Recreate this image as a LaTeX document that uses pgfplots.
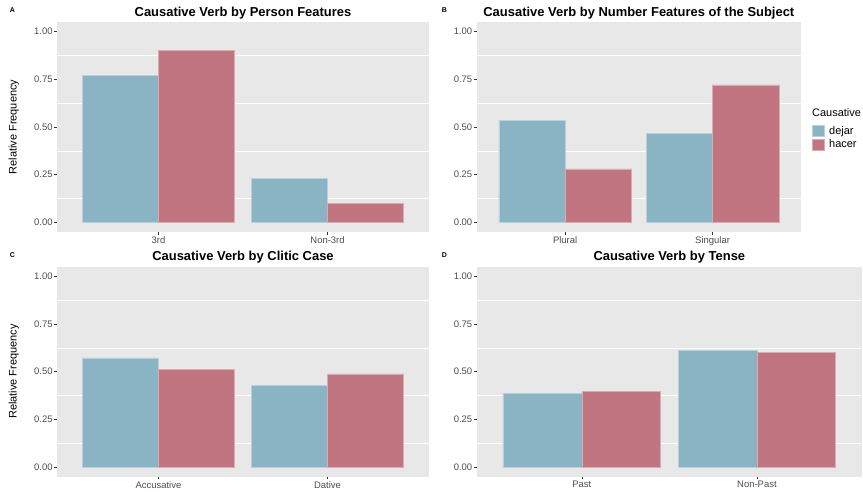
\documentclass[border=0pt]{standalone}
\usepackage{pgfplots}
\pgfplotsset{compat=1.18}
\usepackage{fontspec}
\setmainfont{Liberation Sans}
\definecolor{dejarc}{RGB}{138,179,196}
\definecolor{hacerc}{RGB}{192,117,128}
\definecolor{panelbg}{RGB}{232,232,232}
\definecolor{gthirty}{RGB}{77,77,77}
\definecolor{gtwenty}{RGB}{51,51,51}
\pgfplotsset{
  panel/.style={
    scale only axis, height=210bp,
    xmin=0.4, xmax=2.6, ymin=-0.05, ymax=1.05,
    axis background/.style={fill=panelbg},
    axis line style={draw=none},
    xtick={1,2}, ytick={0,0.25,0.5,0.75,1},
    yticklabels={0.00,0.25,0.50,0.75,1.00},
    minor ytick={0.125,0.375,0.625,0.875},
    yminorgrids, minor grid style={white, line width=0.6bp},
    minor tick length=0pt,
    major tick length=2.75bp,
    tick align=outside,
    xtick pos=left, ytick pos=left,
    tick style={gtwenty, line width=0.5bp},
    ticklabel style={font=\fontsize{9.5}{11}\selectfont, text=gthirty, inner sep=1.5bp},
    /pgf/number format/assume math mode=true,
    title style={font=\fontsize{13}{15}\selectfont\bfseries, anchor=base, at={(0.5,1)}, yshift=0bp, inner sep=0pt},
    ylabel style={at={(axis description cs:-0.116,0.5)}, anchor=center, font=\fontsize{11}{13}\selectfont},
  },
  dej/.style={ybar, bar width=0.45, bar shift=0pt, fill=dejarc, draw=dejarc!60!white, line width=0.5bp,
    legend image code/.code={\draw[fill=dejarc, draw=dejarc!60!white, line width=0.5bp] (0bp,-5.5bp) rectangle (11.5bp,5.5bp);}},
  hac/.style={ybar, bar width=0.45, bar shift=0pt, fill=hacerc, draw=hacerc!60!white, line width=0.5bp,
    legend image code/.code={\draw[fill=hacerc, draw=hacerc!60!white, line width=0.5bp] (0bp,-5.5bp) rectangle (11.5bp,5.5bp);}},
}
\begin{document}
\begin{tikzpicture}
\path[use as bounding box] (0bp,0bp) rectangle (863bp,493bp);

% Panel A
\begin{axis}[panel, at={(57bp,261bp)}, anchor=south west, width=372bp,
  title={Causative Verb by Person Features},
  xticklabels={3rd,Non-3rd}, ylabel={Relative Frequency}]
\addplot[dej] coordinates {(0.775,0.769) (1.775,0.231)};
\addplot[hac] coordinates {(1.225,0.902) (2.225,0.098)};
\end{axis}

% Panel B
\begin{axis}[panel, at={(476.7bp,261bp)}, anchor=south west, width=324.3bp,
  title={Causative Verb by Number Features of the Subject},
  xticklabels={Plural,Singular},
  legend style={at={(1.034,0.513)}, anchor=north west, draw=none, fill=none, inner sep=0pt,
    font=\fontsize{11}{13}\selectfont, row sep=0pt, cells={anchor=west},
    /tikz/every odd column/.append style={column sep=3bp}}]
\addplot[dej] coordinates {(0.775,0.533) (1.775,0.467)};
\addplot[hac] coordinates {(1.225,0.280) (2.225,0.720)};
\legend{dejar,hacer}
\end{axis}
\node[anchor=west, font=\fontsize{11}{13}\selectfont, inner sep=0pt] at (812bp,380bp) {Causative};

% Panel C
\begin{axis}[panel, at={(57bp,16.3bp)}, anchor=south west, width=372bp,
  title={Causative Verb by Clitic Case},
  xticklabels={Accusative,Dative}, ylabel={Relative Frequency}]
\addplot[dej] coordinates {(0.775,0.572) (1.775,0.428)};
\addplot[hac] coordinates {(1.225,0.512) (2.225,0.488)};
\end{axis}

% Panel D
\begin{axis}[panel, at={(476.7bp,16.3bp)}, anchor=south west, width=385.3bp,
  title={Causative Verb by Tense},
  xticklabels={Past,Non-Past}]
\addplot[dej] coordinates {(0.775,0.388) (1.775,0.612)};
\addplot[hac] coordinates {(1.225,0.397) (2.225,0.603)};
\end{axis}

\node[font=\fontsize{7}{8}\selectfont\bfseries] at (12.5bp,482.7bp) {A};
\node[font=\fontsize{7}{8}\selectfont\bfseries] at (444.3bp,482.7bp) {B};
\node[font=\fontsize{7}{8}\selectfont\bfseries] at (12.5bp,238bp) {C};
\node[font=\fontsize{7}{8}\selectfont\bfseries] at (444.3bp,238bp) {D};
\end{tikzpicture}
\end{document}
